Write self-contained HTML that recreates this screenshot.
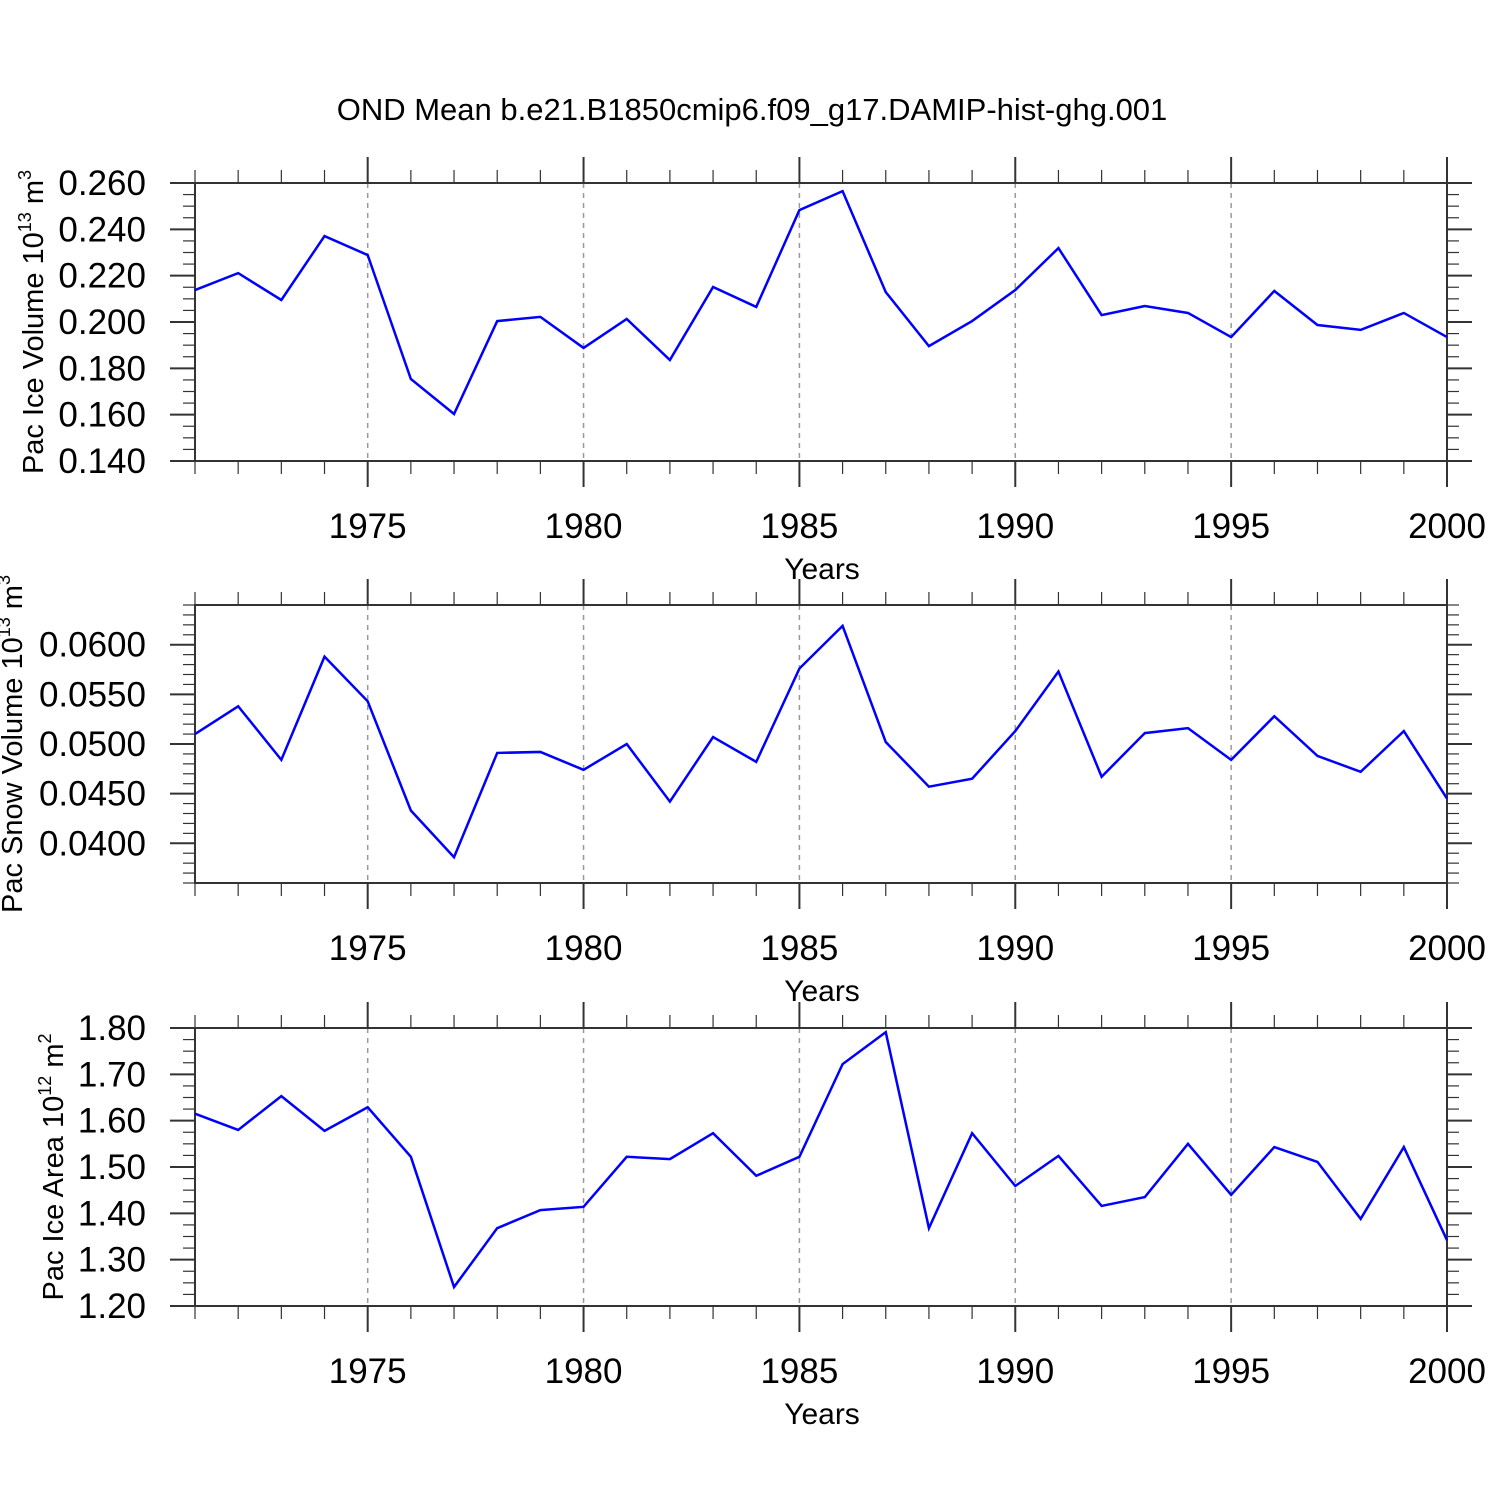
<!DOCTYPE html>
<html><head><meta charset="utf-8"><style>
html,body{margin:0;padding:0;background:#fff;}
svg{display:block;font-family:"Liberation Sans",sans-serif;}
</style></head><body>
<svg id="fig" width="1500" height="1500" viewBox="0 0 1500 1500" xmlns="http://www.w3.org/2000/svg">
<text x="752" y="120" font-size="31" text-anchor="middle">OND Mean b.e21.B1850cmip6.f09_g17.DAMIP-hist-ghg.001</text>
</svg>
<script>
const years=[1971,1972,1973,1974,1975,1976,1977,1978,1979,1980,1981,1982,1983,1984,1985,1986,1987,1988,1989,1990,1991,1992,1993,1994,1995,1996,1997,1998,1999,2000];
const iceVolume=[0.2138,0.2211,0.2095,0.2371,0.2289,0.1754,0.1603,0.2004,0.2022,0.1888,0.2013,0.1836,0.2151,0.2065,0.2483,0.2565,0.2129,0.1896,0.2004,0.2138,0.2319,0.2030,0.2069,0.2039,0.1935,0.2134,0.1987,0.1966,0.2039,0.1935];
const snowVolume=[0.0510,0.0538,0.0484,0.0588,0.0543,0.0433,0.0386,0.0491,0.0492,0.0474,0.0500,0.0442,0.0507,0.0482,0.0576,0.0619,0.0502,0.0457,0.0465,0.0513,0.0573,0.0467,0.0511,0.0516,0.0484,0.0528,0.0488,0.0472,0.0513,0.0445];
const iceArea=[1.615,1.580,1.653,1.578,1.629,1.522,1.241,1.368,1.407,1.414,1.522,1.517,1.573,1.481,1.522,1.722,1.791,1.368,1.573,1.459,1.524,1.416,1.435,1.550,1.440,1.543,1.511,1.388,1.543,1.342];
const xTicks=[1975,1980,1985,1990,1995,2000];
const iceVolTicks=["0.140","0.160","0.180","0.200","0.220","0.240","0.260"];
const snowTicks=["0.0400","0.0450","0.0500","0.0550","0.0600"];
const areaTicks=["1.20","1.30","1.40","1.50","1.60","1.70","1.80"];

const NS="http://www.w3.org/2000/svg";
const svg=document.getElementById('fig');
function mk(tag,attrs,parent){const e=document.createElementNS(NS,tag);for(const k in attrs)e.setAttribute(k,attrs[k]);(parent||svg).appendChild(e);return e;}
const X0=195,X1=1447,XMIN=1971,XMAX=2000;
function xs(v){return X0+(v-XMIN)/(XMAX-XMIN)*(X1-X0);}

function panel(name,top,bot,ymin,ymax,ticks,minorStep,data,titleParts,titleX){
  const g=mk('g',{});
  
  
  const ys=v=>bot-(v-ymin)/(ymax-ymin)*(bot-top);
  xTicks.forEach(t=>{ if(t<XMAX){const l=mk('line',{x1:xs(t),x2:xs(t),y1:top,y2:bot,stroke:'#999','stroke-width':1.5,'stroke-dasharray':'5,5'},g);
    }});
  for(let yr=XMIN;yr<=XMAX;yr++){
    const major=yr%5===0, len=major?26:13, x=xs(yr);
    mk('line',{x1:x,x2:x,y1:top,y2:top-len,stroke:'#333','stroke-width':major?2:1.2},g);
    mk('line',{x1:x,x2:x,y1:bot,y2:bot+len,stroke:'#333','stroke-width':major?2:1.2},g);
  }
  const nMin=Math.round((ymax-ymin)/minorStep);
  for(let i=0;i<=nMin;i++){
    const v=ymin+i*minorStep,y=ys(v);
    const majorStep=(parseFloat(ticks[1])-parseFloat(ticks[0]));
    const r=(v-parseFloat(ticks[0]))/majorStep;
    const major=Math.abs(r-Math.round(r))<1e-6 && v>=parseFloat(ticks[0])-1e-9;
    const len=major?25:12;
    mk('line',{x1:X0,x2:X0-len,y1:y,y2:y,stroke:'#333','stroke-width':major?2:1.2},g);
    mk('line',{x1:X1,x2:X1+len,y1:y,y2:y,stroke:'#333','stroke-width':major?2:1.2},g);
  }
  ticks.forEach(t=>{const tx=mk('text',{x:146,y:ys(parseFloat(t))+12,'font-size':35,'text-anchor':'end'},g);tx.textContent=t;
    });
  xTicks.forEach(t=>{const tx=mk('text',{x:xs(t),y:bot+77,'font-size':35,'text-anchor':'middle'},g);tx.textContent=t;
    });
  const xt=mk('text',{x:822,y:bot+118,'font-size':30,'text-anchor':'middle'},g);xt.textContent='Years';
  
  mk('rect',{x:X0,y:top,width:X1-X0,height:bot-top,fill:'none',stroke:'#333','stroke-width':2},g);
  const cy=(top+bot)/2;
  const yt=mk('text',{x:0,y:0,'font-size':29,'text-anchor':'middle',transform:`translate(${titleX},${cy}) rotate(-90)`},g);
  
  yt.innerHTML=titleParts;
  const pts=years.map((yr,i)=>xs(yr)+','+ys(data[i])).join(' ');
  const pl=mk('polyline',{points:pts,fill:'none',stroke:'#0000ff','stroke-width':2.5,'stroke-linejoin':'miter'},g);
  
}
panel('ice-volume',183,461,0.140,0.260,iceVolTicks,0.005,iceVolume,'Pac Ice Volume 10<tspan dy="-12" font-size="18">13</tspan><tspan dy="12"> m</tspan><tspan dy="-12" font-size="18">3</tspan>',43);
panel('snow-volume',605,883,0.0360,0.0640,snowTicks,0.001,snowVolume,'Pac Snow Volume 10<tspan dy="-12" font-size="18">13</tspan><tspan dy="12"> m</tspan><tspan dy="-12" font-size="18">3</tspan>',22);
panel('ice-area',1028,1306,1.20,1.80,areaTicks,0.025,iceArea,'Pac Ice Area 10<tspan dy="-12" font-size="18">12</tspan><tspan dy="12"> m</tspan><tspan dy="-12" font-size="18">2</tspan>',63);
</script>
</body></html>
